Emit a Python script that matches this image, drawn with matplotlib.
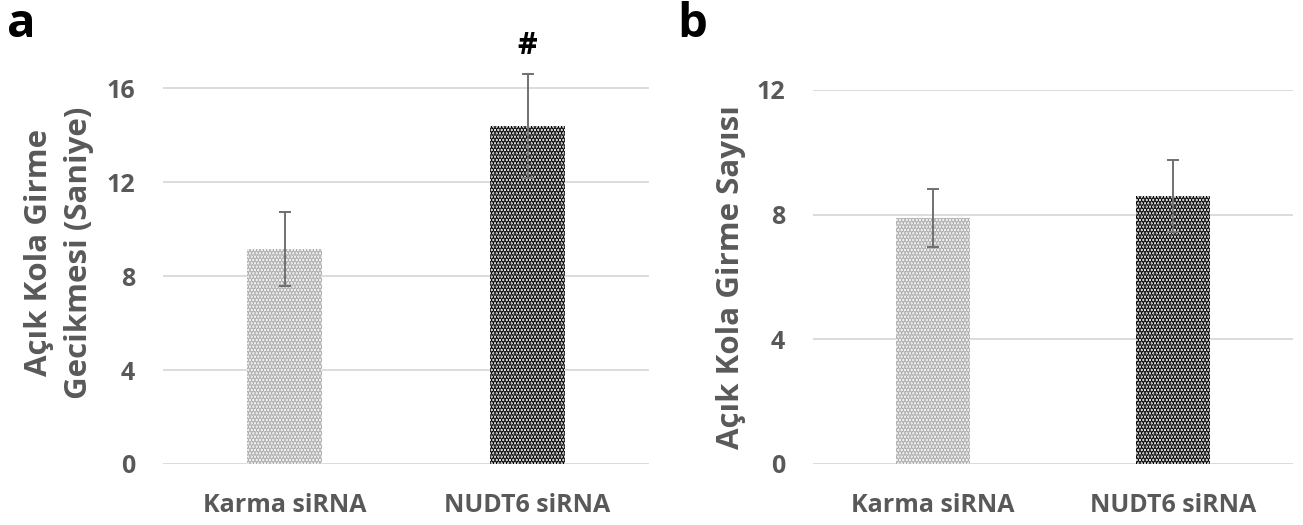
import numpy as np
import matplotlib.pyplot as plt

groups = ['Karma siRNA', 'NUDT6 siRNA']
latency = [9.15, 14.4]
latency_err = [1.57, 2.2]
entries = [7.88, 8.6]
entries_err = [0.93, 1.15]

plt.rcParams['font.family'] = ['Open Sans', 'DejaVu Sans']
plt.rcParams['font.weight'] = 'bold'
plt.rcParams['hatch.linewidth'] = 2.2
gray = '#595959'

fig = plt.figure(figsize=(13.03, 5.25), dpi=100)
ax1 = fig.add_axes([0.1251, 0.1162, 0.373, 0.805])
ax2 = fig.add_axes([0.624, 0.1162, 0.3684, 0.7124])


def draw(ax, vals, errs, ymax, ylabel, lpad):
    x = np.arange(len(groups))
    ax.bar(x[0], vals[0], width=0.31, color='white', edgecolor='#ababab',
           hatch='.....', linewidth=0)
    ax.bar(x[1], vals[1], width=0.31, color='white', edgecolor='black',
           hatch='.....', linewidth=0)
    ax.errorbar(x, vals, yerr=errs, fmt='none', ecolor='#707070',
                elinewidth=1.4, capsize=4, capthick=1.4)
    ax.set_xlim(-0.5, 1.5)
    ax.set_ylim(0, ymax)
    ax.set_yticks([0, 4, 8, 12, 16] if ymax > 16 else [0, 4, 8, 12])
    ax.set_xticks(x)
    ax.set_xticklabels(groups)
    ax.yaxis.grid(True, color='#d9d9d9', linewidth=1.3)
    ax.set_axisbelow(True)
    for s in ax.spines.values():
        s.set_visible(False)
    ax.tick_params(length=0, colors=gray, labelsize=18)
    ax.tick_params(axis='y', pad=20)
    ax.tick_params(axis='x', pad=21)
    ax.set_ylabel(ylabel, color=gray, fontsize=22.5, fontweight='bold',
                  labelpad=lpad, linespacing=1.45)


draw(ax1, latency, latency_err, 18, 'Açık Kola Girme\nGecikmesi (Saniye)', 9)
draw(ax2, entries, entries_err, 12, 'Açık Kola Girme Sayısı', 8)

ax1.text(1, latency[1] + latency_err[1] + 0.55, '#', ha='center', va='bottom',
         fontsize=22, color='black')
fig.text(0.005, 0.929, 'a', fontsize=34, color='black', va='baseline')
fig.text(0.520, 0.929, 'b', fontsize=34, color='black', va='baseline')

fig.savefig('out.png', dpi=100)
